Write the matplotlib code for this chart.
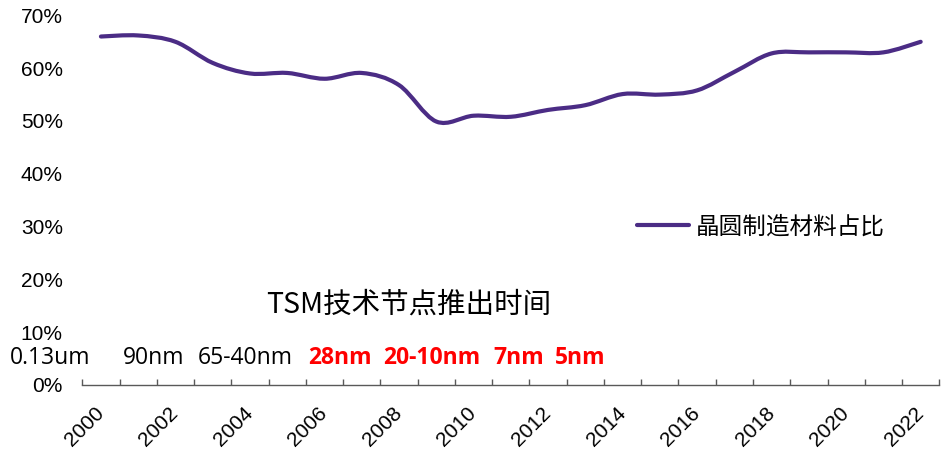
import matplotlib
matplotlib.use("Agg")
import matplotlib.pyplot as plt
import numpy as np
from matplotlib.path import Path
from matplotlib.patches import PathPatch
from matplotlib.lines import Line2D

# data
years = [str(y) for y in range(2000, 2023)]
share = [66.0, 66.2, 65.0, 61.0, 59.0, 59.1, 58.0, 59.1, 56.8, 49.9, 51.0, 50.8,
         52.1, 53.0, 55.1, 55.0, 55.8, 59.3, 62.8, 63.0, 63.0, 63.0, 65.0]
series_name = "晶圆制造材料占比"
node_title = "TSM技术节点推出时间"
node_labels = ["0.13um", "90nm", "65-40nm", "28nm", "20-10nm", "7nm", "5nm"]
node_new = [False, False, False, True, True, True, True]
y_ticks = [0, 10, 20, 30, 40, 50, 60, 70]

PURPLE = "#4B2C85"
NUM_FONT = ["Liberation Sans Narrow", "Liberation Sans", "DejaVu Sans"]
CJK_FONT = ["Noto Sans CJK SC", "DejaVu Sans"]

fig = plt.figure(figsize=(9.44, 4.5), dpi=100)
ax = fig.add_axes([82.3 / 944, 1 - 385 / 450, (939.3 - 82.3) / 944, (385 - 15.4) / 450])

# smoothed line (Excel-like Catmull-Rom bezier)
x = np.arange(len(years), dtype=float)
y = np.array(share) / 100.0
pts = np.column_stack([x, y])
ext = np.vstack([pts[0], pts, pts[-1]])
verts = [tuple(pts[0])]
codes = [Path.MOVETO]
for i in range(len(pts) - 1):
    p0, p1, p2, p3 = ext[i], ext[i + 1], ext[i + 2], ext[i + 3]
    c1 = p1 + (p2 - p0) / 6.0
    c2 = p2 - (p3 - p1) / 6.0
    verts += [tuple(c1), tuple(c2), tuple(p2)]
    codes += [Path.CURVE4] * 3
ax.add_patch(PathPatch(Path(verts, codes), fill=False, edgecolor=PURPLE,
                       linewidth=3.0, capstyle="round", joinstyle="round"))

ax.set_xlim(-0.5, len(years) - 0.5)
ax.set_ylim(0, 0.70)

for s in ["top", "right", "left"]:
    ax.spines[s].set_visible(False)
ax.spines["bottom"].set_color("#595959")
ax.spines["bottom"].set_linewidth(1.0)

ax.set_yticks([v / 100 for v in y_ticks])
ax.set_yticklabels([f"{v}%" for v in y_ticks], fontfamily=NUM_FONT, fontsize=15)
ax.tick_params(axis="y", length=0, pad=14)

ax.set_xticks(x)
ax.set_xticklabels([yr if i % 2 == 0 else "" for i, yr in enumerate(years)],
                   rotation=45, ha="right", va="center", rotation_mode="anchor",
                   fontfamily=NUM_FONT, fontsize=15)
ax.tick_params(axis="x", which="major", length=0, pad=18)
ax.set_xticks(np.arange(-0.5, len(years), 1.0), minor=True)
ax.tick_params(axis="x", which="minor", direction="in", length=4.5,
               width=1.0, color="#595959")

# legend
handle = Line2D([], [], color=PURPLE, linewidth=3.0, solid_capstyle="round")
fig.legend([handle], [series_name], loc="center left",
           bbox_to_anchor=(637 / 944, 1 - 227 / 450), frameon=False,
           prop={"family": CJK_FONT, "size": 17}, handlelength=2.2,
           handletextpad=0.3, borderpad=0, borderaxespad=0)

# TSM node annotation
fig.text(409 / 944, 1 - 305 / 450, node_title, ha="center", va="center",
         fontfamily=CJK_FONT, fontsize=20.5, color="#000000")
node_px = [10, 123, 198, 308, 383, 493, 555]
for lab, new, px in zip(node_labels, node_new, node_px):
    fig.text(px / 944, 1 - 358 / 450, lab, ha="left", va="center",
             fontfamily=["Open Sans", "DejaVu Sans"], fontsize=16.5,
             color="#FF0000" if new else "#000000",
             fontweight="bold" if new else "normal")

fig.savefig("out.png", dpi=100)
